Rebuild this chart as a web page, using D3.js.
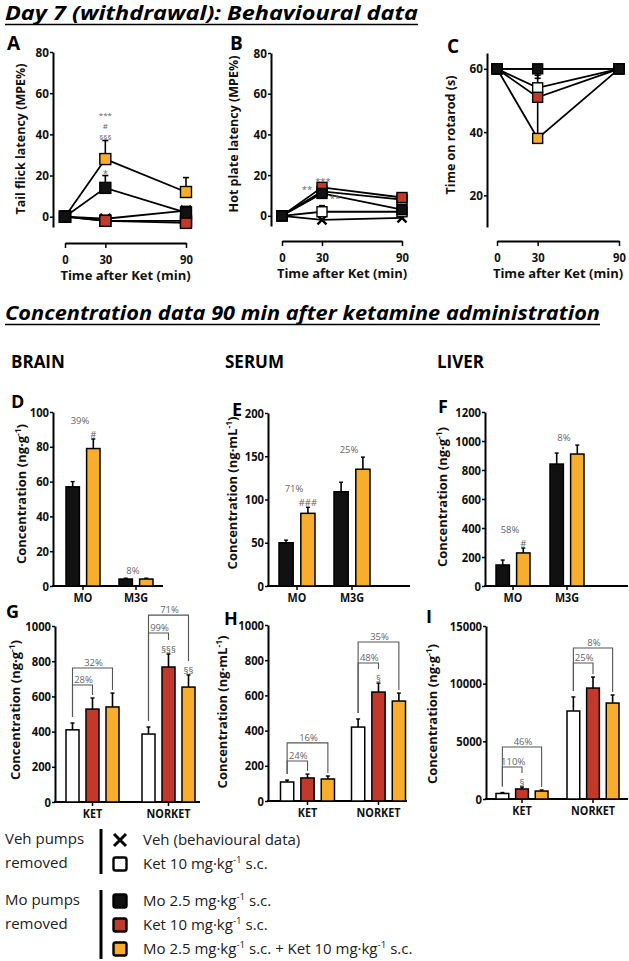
<!DOCTYPE html>
<html>
<head>
<meta charset="utf-8">
<script src="https://cdn.jsdelivr.net/npm/d3@7"></script>
<style>
  body { margin: 0; background: #fff; }
  svg text { font-family: "Open Sans", "Noto Sans", sans-serif; }
</style>
</head>
<body>
<svg id="fig" width="629" height="961"></svg>
<script>
// ---------- data ----------
const timePoints = [0, 30, 90];
// series order: veh, ketVeh (Ket, veh pumps), mo, ket (Ket, Mo pumps), moKet
const lineSeries = ['veh', 'ketVeh', 'mo', 'ket', 'moKet'];
const drawOrder = [0, 1, 4, 3, 2]; // black squares end up on top, as in the figure

// A: tail flick (MPE%)
const tailFlickMean = [[0, -1, 3], [0, -2, -2], [0, 14, 2], [0, -2, -3], [0, 28, 12]];
const tailFlickErr  = [[0, 0, 2], [0, 0, 0], [0, 6, 2], [0, 0, 1], [0, 9, 7]];
// B: hot plate (MPE%)
const hotPlateMean = [[0, -2, -1], [0, 2, 2], [0, 11, 3], [0, 14, 9], [0, 12, 8]];
const hotPlateErr  = [[0, 0, 0], [0, 3, 0], [0, 2, 1], [0, 2, 2], [0, 2, 1]];
// C: rotarod (s)
const rotarodMean = [[60, 60, 60], [60, 54, 60], [60, 60, 60], [60, 51, 60], [60, 38, 60]];
const rotarodErr  = [[0, 0, 0], [0, 4, 0], [0, -3, 0], [0, 4, 0], [0, 12, 0]];

// D-F: morphine metabolites, series [mo, moKet]
const moCats = ['MO', 'M3G'];
const moSeries = ['mo', 'moKet'];
const brainMoMean = [[57, 79], [4, 4]];
const brainMoErr  = [[3, 5.5], [0.5, 0.5]];
const brainMoPct  = ['39%', '8%'];
const brainMoSig  = [['MO', 1, '#']];
const serumMoMean = [[50, 84], [109, 135]];
const serumMoErr  = [[3, 7], [11, 14]];
const serumMoPct  = ['71%', '25%'];
const serumMoSig  = [['MO', 1, '###']];
const liverMoMean = [[145, 228], [841, 910]];
const liverMoErr  = [[34, 34], [76, 62]];
const liverMoPct  = ['58%', '8%'];
const liverMoSig  = [['MO', 1, '#']];

// G-I: ketamine / norketamine, series [ketVeh, ket, moKet]
const ketCats = ['KET', 'NORKET'];
const ketSeries = ['ketVeh', 'ket', 'moKet'];
const brainKetMean = [[410, 528, 540], [386, 767, 653]];
const brainKetErr  = [[39, 63, 79], [40, 74, 69]];
const brainKetBrackets = [['KET', 1, '28%', 665], ['KET', 2, '32%', 761], ['NORKET', 1, '99%', 960], ['NORKET', 2, '71%', 1062]];
const brainKetSig = [['NORKET', 1, '§§§'], ['NORKET', 2, '§§']];
const serumKetMean = [[108, 131, 125], [420, 619, 568]];
const serumKetErr  = [[11, 22, 17], [46, 51, 45]];
const serumKetBrackets = [['KET', 1, '24%', 227], ['KET', 2, '16%', 330], ['NORKET', 1, '48%', 784], ['NORKET', 2, '35%', 903]];
const serumKetSig = [['NORKET', 1, '§']];
const liverKetMean = [[480, 870, 690], [7630, 9620, 8320]];
const liverKetErr  = [[80, 170, 90], [1220, 960, 700]];
const liverKetBrackets = [['KET', 1, '110%', 2775], ['KET', 2, '46%', 4510], ['NORKET', 1, '25%', 11795], ['NORKET', 2, '8%', 13096]];
const liverKetSig = [['KET', 1, '§']];

// legend
const legendVeh = [['veh', 'Veh (behavioural data)'], ['ketVeh', 'Ket 10 mg·kg|-1| s.c.']];
const legendMo = [['mo', 'Mo 2.5 mg·kg|-1| s.c.'], ['ket', 'Ket 10 mg·kg|-1| s.c.'], ['moKet', 'Mo 2.5 mg·kg|-1| s.c. + Ket 10 mg·kg|-1| s.c.']];

// ---------- styles ----------
const fillOf = { veh: '#000', ketVeh: '#fff', mo: '#111', ket: '#c0392b', moKet: '#f9ad2c' };
const annoColor = '#666';
const annoSize = 9.5;

const svg = d3.select('#fig');

// write text with "|sup|" parts as superscripts
function richText(sel, str, size) {
  str.split('|').forEach((part, i) => {
    if (!part) return;
    const t = sel.append('tspan').text(part);
    if (i % 2 === 1) {
      t.attr('font-size', size * 0.65).attr('dy', -size * 0.38);
    } else if (i > 0) {
      t.attr('dy', size * 0.38);
    }
  });
  return sel;
}

// squeeze a text horizontally (the original font is a narrow one)
function condense(node, k) {
  const len = node.getComputedTextLength();
  node.setAttribute('textLength', len * k);
  node.setAttribute('lengthAdjust', 'spacingAndGlyphs');
}

function title(txt, y, len) {
  svg.append('text')
    .attr('x', 5).attr('y', y)
    .attr('font-size', 19).attr('font-weight', 'bold').attr('font-style', 'italic')
    .attr('textLength', len).attr('lengthAdjust', 'spacingAndGlyphs')
    .text(txt);
  svg.append('line')
    .attr('x1', 5).attr('x2', 5 + len).attr('y1', y + 4.5).attr('y2', y + 4.5)
    .attr('stroke', '#000').attr('stroke-width', 1.6);
}

function styleAxis(g, fs) {
  g.select('.domain').attr('stroke', '#000').attr('stroke-width', 2);
  g.selectAll('.tick line').attr('stroke', '#000').attr('stroke-width', 1.5);
  g.selectAll('.tick text').attr('font-size', fs).attr('font-weight', 'bold')
    .attr('fill', '#111').style('font-family', '"Open Sans", sans-serif')
    .each(function () { condense(this, 0.9); });
}

function panelLetter(l, x, y, fs) {
  svg.append('text').attr('x', x).attr('y', y)
    .attr('font-size', fs).attr('font-weight', 'bold').text(l);
}

function yLabel(str, x, y, fs) {
  const t = svg.append('text')
    .attr('transform', `translate(${x},${y}) rotate(-90)`)
    .attr('text-anchor', 'middle')
    .attr('font-size', fs).attr('font-weight', 'bold').attr('fill', '#111');
  richText(t, str, fs);
}

// ---------- line panels (A-C) ----------
function drawLinePanel(p) {
  const g = svg.append('g');
  const x = d3.scaleLinear().domain([0, 90]).range([p.x0, p.x1]);
  const y = d3.scaleLinear().domain(p.yDomain).range([p.yBot, p.yTop]);

  const ya = g.append('g').attr('transform', `translate(${p.axisX},0)`)
    .call(d3.axisLeft(y).tickValues(p.yTicks).tickSize(3).tickSizeOuter(0).tickPadding(1));
  styleAxis(ya, 13);

  const xa = g.append('g').attr('transform', `translate(0,${p.xAxisY})`)
    .call(d3.axisBottom(x).tickValues(timePoints).tickSize(5).tickSizeOuter(0).tickPadding(7));
  styleAxis(xa, 12.5);

  g.append('text').attr('x', (p.x0 + p.x1) / 2).attr('y', p.xAxisY + 37)
    .attr('text-anchor', 'middle').attr('font-size', 13).attr('font-weight', 'bold')
    .attr('fill', '#111').text('Time after Ket (min)');

  const line = d3.line().x((d, i) => x(timePoints[i])).y(d => y(d));
  drawOrder.forEach(s => {
    g.append('path').attr('d', line(p.mean[s])).attr('fill', 'none')
      .attr('stroke', '#000').attr('stroke-width', 1.8);
  });

  // error bars
  drawOrder.forEach(s => {
    p.mean[s].forEach((v, i) => {
      const e = p.err[s][i];
      if (!e) return;
      const cx = x(timePoints[i]);
      g.append('line').attr('x1', cx).attr('x2', cx).attr('y1', y(v)).attr('y2', y(v + e))
        .attr('stroke', '#000').attr('stroke-width', 1.6);
      g.append('line').attr('x1', cx - 3).attr('x2', cx + 3).attr('y1', y(v + e)).attr('y2', y(v + e))
        .attr('stroke', '#000').attr('stroke-width', 1.6);
    });
  });

  // markers
  const ms = p.markerSize;
  drawOrder.forEach(s => {
    const name = lineSeries[s];
    p.mean[s].forEach((v, i) => {
      const cx = x(timePoints[i]), cy = y(v);
      if (name === 'veh') {
        const h = ms / 2 - 0.5;
        g.append('path').attr('d', `M${cx - h},${cy - h}L${cx + h},${cy + h}M${cx - h},${cy + h}L${cx + h},${cy - h}`)
          .attr('stroke', '#000').attr('stroke-width', 2.4);
      } else {
        g.append('rect').attr('x', cx - ms / 2).attr('y', cy - ms / 2)
          .attr('width', ms).attr('height', ms)
          .attr('fill', fillOf[name]).attr('stroke', '#000').attr('stroke-width', 1.4);
      }
    });
  });

  // significance marks
  (p.sig || []).forEach(([sIdx, tIdx, txt, dx, dy, fs]) => {
    const v = p.mean[sIdx][tIdx] + Math.max(0, p.err[sIdx][tIdx]);
    g.append('text').attr('x', x(timePoints[tIdx]) + dx).attr('y', y(v) + dy)
      .attr('text-anchor', 'middle').attr('font-size', fs || annoSize).attr('fill', annoColor).text(txt);
  });

  yLabel(p.ylabel, p.ylabelX, p.ylabelY, 12.5);
  panelLetter(p.letter, p.letterX, p.letterY, 19);
}

// ---------- bar panels (D-I) ----------
function drawBarPanel(p) {
  const g = svg.append('g');
  const y = d3.scaleLinear().domain(p.yDomain).range([p.yBot, p.yTop]);
  const x0 = d3.scaleBand().domain(p.cats).range(p.band);
  const x1 = d3.scaleBand().domain(p.series).range([0, p.innerW]).paddingInner(0.35);
  const left = c => x0(c) + (x0.bandwidth() - p.innerW) / 2;
  const barCx = (c, s) => left(c) + x1(p.series[s]) + x1.bandwidth() / 2;
  const errTop = (ci, s) => y(p.mean[ci][s] + p.err[ci][s]);

  const ya = g.append('g').attr('transform', `translate(${p.axisX},0)`)
    .call(d3.axisLeft(y).tickValues(p.yTicks).tickSize(3).tickSizeOuter(0).tickPadding(1).tickFormat(d3.format('d')));
  styleAxis(ya, 12.5);

  const xa = g.append('g').attr('transform', `translate(0,${p.yBot})`)
    .call(d3.axisBottom(x0).tickSize(4).tickSizeOuter(0).tickPadding(3));
  styleAxis(xa, 12);
  xa.select('.domain').remove();
  g.append('line').attr('x1', p.axisX - 1).attr('x2', p.axisEnd).attr('y1', p.yBot).attr('y2', p.yBot)
    .attr('stroke', '#000').attr('stroke-width', 2);

  p.cats.forEach((c, ci) => {
    p.series.forEach((s, si) => {
      const v = p.mean[ci][si], e = p.err[ci][si];
      const bx = left(c) + x1(s), cx = bx + x1.bandwidth() / 2;
      g.append('line').attr('x1', cx).attr('x2', cx).attr('y1', y(v)).attr('y2', y(v + e))
        .attr('stroke', '#000').attr('stroke-width', 1.6);
      g.append('line').attr('x1', cx - 2).attr('x2', cx + 2).attr('y1', y(v + e)).attr('y2', y(v + e))
        .attr('stroke', '#000').attr('stroke-width', 1.4);
      g.append('rect').attr('x', bx).attr('y', y(v))
        .attr('width', x1.bandwidth()).attr('height', y(0) - y(v))
        .attr('fill', fillOf[s]).attr('stroke', '#000').attr('stroke-width', 1.5);
    });
  });

  const sigSet = new Set((p.sig || []).map(d => d[0] + ':' + d[1]));
  (p.sig || []).forEach(([c, s, txt]) => {
    const ci = p.cats.indexOf(c);
    g.append('text').attr('x', barCx(c, s)).attr('y', errTop(ci, s) - 1)
      .attr('text-anchor', 'middle').attr('font-size', annoSize).attr('fill', annoColor).text(txt);
  });

  // percentage labels above pairs (D-F)
  (p.pct || []).forEach((txt, ci) => {
    const c = p.cats[ci];
    const top = d3.min(p.series.map((s, si) => errTop(ci, si)));
    const hasSig = p.series.some((s, si) => sigSet.has(c + ':' + si));
    g.append('text').attr('x', x0(c) + x0.bandwidth() / 2 - 3).attr('y', top - 4 - (hasSig ? 11 : 0))
      .attr('text-anchor', 'middle').attr('font-size', annoSize).attr('fill', annoColor).text(txt);
  });

  // comparison brackets (G-I), always from the first series
  (p.brackets || []).forEach(([c, s, txt, level]) => {
    const ci = p.cats.indexOf(c);
    const ax = barCx(c, 0), bxr = barCx(c, s), ly = y(level);
    const leftEnd = errTop(ci, 0) - 6;
    const rightEnd = errTop(ci, s) - 3 - (sigSet.has(c + ':' + s) ? 11 : 0);
    g.append('path').attr('d', `M${ax},${leftEnd}V${ly}H${bxr}V${rightEnd}`)
      .attr('fill', 'none').attr('stroke', '#555').attr('stroke-width', 1.1);
    g.append('text').attr('x', (ax + bxr) / 2 + 1).attr('y', ly - 2)
      .attr('text-anchor', 'middle').attr('font-size', annoSize).attr('fill', annoColor).text(txt);
  });

  yLabel(p.ylabel, p.ylabelX, p.ylabelY, 13);
  panelLetter(p.letter, p.letterX, p.letterY, 18);
}

// ---------- layout ----------
title('Day 7 (withdrawal): Behavioural data', 20, 413);
title('Concentration data 90 min after ketamine administration', 320, 595);

drawLinePanel({
  letter: 'A', letterX: 7, letterY: 50,
  x0: 65, x1: 186, axisX: 53, yDomain: [-5, 80], yBot: 227, yTop: 52, yTicks: [0, 20, 40, 60, 80],
  xAxisY: 243, mean: tailFlickMean, err: tailFlickErr, markerSize: 11,
  ylabel: 'Tail flick latency (MPE%)', ylabelX: 25, ylabelY: 139,
  sig: [[4, 1, '§§§', 0, -1, 8], [4, 1, '#', 0, -12, 8], [4, 1, '***', 0, -23, 8], [2, 1, '*', 0, 1]]
});
drawLinePanel({
  letter: 'B', letterX: 230, letterY: 50,
  x0: 282, x1: 402, axisX: 271, yDomain: [-5, 80], yBot: 226, yTop: 53, yTicks: [0, 20, 40, 60, 80],
  xAxisY: 241, mean: hotPlateMean, err: hotPlateErr, markerSize: 10,
  ylabel: 'Hot plate latency (MPE%)', ylabelX: 238, ylabelY: 134,
  sig: [[3, 1, '***', 1, 2], [4, 1, '**', -15, 6], [2, 1, '**', 13, 13]]
});
drawLinePanel({
  letter: 'C', letterX: 447, letterY: 53,
  x0: 497, x1: 619, axisX: 487, yDomain: [10, 65], yBot: 227, yTop: 53, yTicks: [20, 40, 60],
  xAxisY: 241, mean: rotarodMean, err: rotarodErr, markerSize: 10,
  ylabel: 'Time on rotarod (s)', ylabelX: 455, ylabelY: 135
});

// organ headers
[['BRAIN', 11], ['SERUM', 225], ['LIVER', 437]].forEach(([t, x]) => {
  svg.append('text').attr('x', x).attr('y', 368).attr('font-size', 17).attr('font-weight', 'bold').text(t);
});

drawBarPanel({
  letter: 'D', letterX: 11, letterY: 408,
  cats: moCats, series: moSeries, mean: brainMoMean, err: brainMoErr, pct: brainMoPct, sig: brainMoSig,
  yDomain: [0, 100], yTicks: [0, 20, 40, 60, 80, 100], yBot: 586, yTop: 412,
  axisX: 53, axisEnd: 163, band: [56.5, 162.5], innerW: 34,
  ylabel: 'Concentration (ng·g|-1|)', ylabelX: 26, ylabelY: 494
});
drawBarPanel({
  letter: 'E', letterX: 232, letterY: 416,
  cats: moCats, series: moSeries, mean: serumMoMean, err: serumMoErr, pct: serumMoPct, sig: serumMoSig,
  yDomain: [0, 200], yTicks: [0, 50, 100, 150, 200], yBot: 586, yTop: 413,
  axisX: 268, axisEnd: 410, band: [269.5, 379.5], innerW: 36,
  ylabel: 'Concentration (ng·mL|-1|)', ylabelX: 237, ylabelY: 493
});
drawBarPanel({
  letter: 'F', letterX: 438, letterY: 413,
  cats: moCats, series: moSeries, mean: liverMoMean, err: liverMoErr, pct: liverMoPct, sig: liverMoSig,
  yDomain: [0, 1200], yTicks: [0, 200, 400, 600, 800, 1000, 1200], yBot: 586, yTop: 412,
  axisX: 485, axisEnd: 628, band: [486, 594], innerW: 34,
  ylabel: 'Concentration (ng·g|-1|)', ylabelX: 447, ylabelY: 497
});
drawBarPanel({
  letter: 'G', letterX: 6, letterY: 618,
  cats: ketCats, series: ketSeries, mean: brainKetMean, err: brainKetErr, brackets: brainKetBrackets, sig: brainKetSig,
  yDomain: [0, 1000], yTicks: [0, 200, 400, 600, 800, 1000], yBot: 802, yTop: 626,
  axisX: 55, axisEnd: 200, band: [54.5, 206.5], innerW: 53,
  ylabel: 'Concentration (ng·g|-1|)', ylabelX: 20, ylabelY: 710
});
drawBarPanel({
  letter: 'H', letterX: 224, letterY: 625,
  cats: ketCats, series: ketSeries, mean: serumKetMean, err: serumKetErr, brackets: serumKetBrackets, sig: serumKetSig,
  yDomain: [0, 1000], yTicks: [0, 200, 400, 600, 800, 1000], yBot: 801, yTop: 625,
  axisX: 268, axisEnd: 407, band: [272, 414], innerW: 54,
  ylabel: 'Concentration (ng·mL|-1|)', ylabelX: 227, ylabelY: 712
});
drawBarPanel({
  letter: 'I', letterX: 426, letterY: 623,
  cats: ketCats, series: ketSeries, mean: liverKetMean, err: liverKetErr, brackets: liverKetBrackets, sig: liverKetSig,
  yDomain: [0, 15000], yTicks: [0, 5000, 10000, 15000], yBot: 799, yTop: 626,
  axisX: 486, axisEnd: 628, band: [486.5, 628.5], innerW: 52,
  ylabel: 'Concentration (ng·g|-1|)', ylabelX: 437, ylabelY: 714
});

// ---------- legend ----------
function legendBlock(rows, y0, heading) {
  const g = svg.append('g');
  heading.forEach((h, i) => {
    g.append('text').attr('x', 5).attr('y', y0 + 4 + i * 24).attr('font-size', 15).attr('fill', '#222').text(h);
  });
  g.append('line').attr('x1', 101).attr('x2', 101)
    .attr('y1', y0 - 11).attr('y2', y0 + (rows.length - 1) * 24 + 10)
    .attr('stroke', '#000').attr('stroke-width', 3);
  rows.forEach(([s, label], i) => {
    const cy = y0 + i * 24;
    if (s === 'veh') {
      g.append('path').attr('d', `M${114},${cy - 6}L${126},${cy + 6}M${114},${cy + 6}L${126},${cy - 6}`)
        .attr('stroke', '#000').attr('stroke-width', 3);
    } else {
      g.append('rect').attr('x', 113.5).attr('y', cy - 6.5).attr('width', 13).attr('height', 13).attr('rx', 2)
        .attr('fill', fillOf[s]).attr('stroke', '#000').attr('stroke-width', 2.4);
    }
    const t = g.append('text').attr('x', 143).attr('y', cy + 5).attr('font-size', 15).attr('fill', '#222');
    richText(t, label, 15);
  });
  return g;
}
legendBlock(legendVeh, 840, ['Veh pumps', 'removed']);
legendBlock(legendMo, 901, ['Mo pumps', 'removed']);
</script>
</body>
</html>
